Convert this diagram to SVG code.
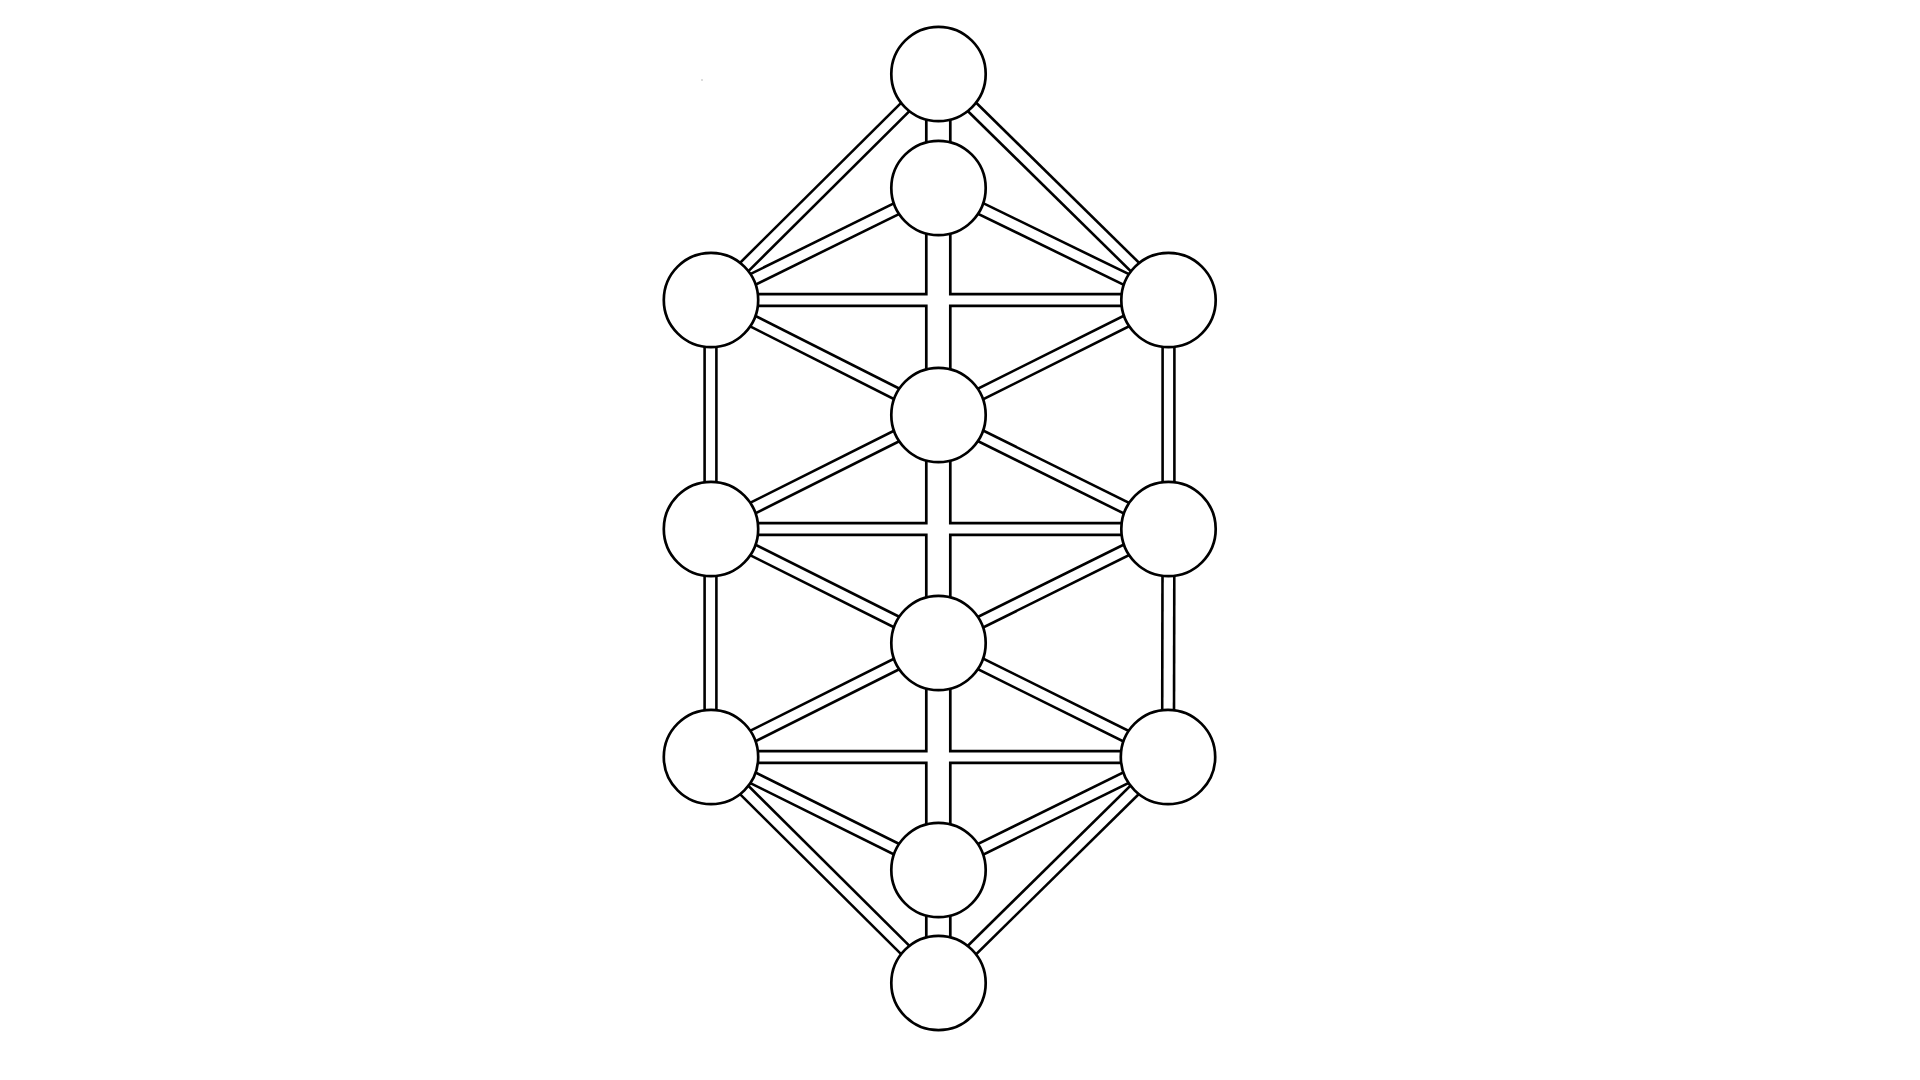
<svg xmlns="http://www.w3.org/2000/svg" xmlns:xlink="http://www.w3.org/1999/xlink" width="1920" height="1080" viewBox="0 0 1920 1080">
<style>
.bg{fill:#fff}
.o{stroke:#000;stroke-width:14.4;fill:none}
.i{stroke:#fff;stroke-width:9.2;fill:none}
.wo{stroke:#000;stroke-width:26.7;fill:none}
.wi{stroke:#fff;stroke-width:21.3;fill:none}
.node circle{fill:#fff;stroke:#000;stroke-width:2.7}
</style>
<defs>
<line id="e-t-lu" x1="938.5" y1="74" x2="711" y2="300"/>
<line id="e-t-ru" x1="938.5" y1="74" x2="1168.5" y2="300"/>
<line id="e-s-lu" x1="938.5" y1="188" x2="711" y2="300"/>
<line id="e-s-ru" x1="938.5" y1="188" x2="1168.5" y2="300"/>
<line id="e-lu-ru" x1="711" y1="300" x2="1168.5" y2="300"/>
<line id="e-lu-cu" x1="711" y1="300" x2="938.5" y2="415"/>
<line id="e-ru-cu" x1="1168.5" y1="300" x2="938.5" y2="415"/>
<line id="e-lu-lm" x1="710.5" y1="300" x2="710.5" y2="529"/>
<line id="e-ru-rm" x1="1168.5" y1="300" x2="1168.5" y2="529"/>
<line id="e-cu-lm" x1="938.5" y1="415" x2="711" y2="529"/>
<line id="e-cu-rm" x1="938.5" y1="415" x2="1168.5" y2="529"/>
<line id="e-lm-rm" x1="711" y1="529" x2="1168.5" y2="529"/>
<line id="e-lm-cl" x1="711" y1="529" x2="938.5" y2="643"/>
<line id="e-rm-cl" x1="1168.5" y1="529" x2="938.5" y2="643"/>
<line id="e-lm-ll" x1="710.5" y1="529" x2="710.5" y2="757"/>
<line id="e-rm-rl" x1="1168.5" y1="529" x2="1168" y2="757"/>
<line id="e-cl-ll" x1="938.5" y1="643" x2="711" y2="757"/>
<line id="e-cl-rl" x1="938.5" y1="643" x2="1168" y2="757"/>
<line id="e-ll-rl" x1="711" y1="757" x2="1168" y2="757"/>
<line id="e-ll-cbu" x1="711" y1="757" x2="938.5" y2="870"/>
<line id="e-rl-cbu" x1="1168" y1="757" x2="938.5" y2="870"/>
<line id="e-ll-b" x1="711" y1="757" x2="938.5" y2="983"/>
<line id="e-rl-b" x1="1168" y1="757" x2="938.5" y2="983"/>
<line id="e-axis" x1="938.3" y1="74" x2="938.3" y2="983"/>
</defs>
<rect class="bg" x="0" y="0" width="1920" height="1080"/>
<rect x="701.5" y="79" width="1" height="2" fill="#bbb"/>
<g id="connectors">
<g id="outlines">
<use xlink:href="#e-t-lu" class="o"/>
<use xlink:href="#e-t-ru" class="o"/>
<use xlink:href="#e-s-lu" class="o"/>
<use xlink:href="#e-s-ru" class="o"/>
<use xlink:href="#e-lu-ru" class="o"/>
<use xlink:href="#e-lu-cu" class="o"/>
<use xlink:href="#e-ru-cu" class="o"/>
<use xlink:href="#e-lu-lm" class="o"/>
<use xlink:href="#e-ru-rm" class="o"/>
<use xlink:href="#e-cu-lm" class="o"/>
<use xlink:href="#e-cu-rm" class="o"/>
<use xlink:href="#e-lm-rm" class="o"/>
<use xlink:href="#e-lm-cl" class="o"/>
<use xlink:href="#e-rm-cl" class="o"/>
<use xlink:href="#e-lm-ll" class="o"/>
<use xlink:href="#e-rm-rl" class="o"/>
<use xlink:href="#e-cl-ll" class="o"/>
<use xlink:href="#e-cl-rl" class="o"/>
<use xlink:href="#e-ll-rl" class="o"/>
<use xlink:href="#e-ll-cbu" class="o"/>
<use xlink:href="#e-rl-cbu" class="o"/>
<use xlink:href="#e-ll-b" class="o"/>
<use xlink:href="#e-rl-b" class="o"/>
<use xlink:href="#e-axis" class="wo"/>
</g>
<g id="channels">
<use xlink:href="#e-t-lu" class="i"/>
<use xlink:href="#e-t-ru" class="i"/>
<use xlink:href="#e-s-lu" class="i"/>
<use xlink:href="#e-s-ru" class="i"/>
<use xlink:href="#e-lu-ru" class="i"/>
<use xlink:href="#e-lu-cu" class="i"/>
<use xlink:href="#e-ru-cu" class="i"/>
<use xlink:href="#e-lu-lm" class="i"/>
<use xlink:href="#e-ru-rm" class="i"/>
<use xlink:href="#e-cu-lm" class="i"/>
<use xlink:href="#e-cu-rm" class="i"/>
<use xlink:href="#e-lm-rm" class="i"/>
<use xlink:href="#e-lm-cl" class="i"/>
<use xlink:href="#e-rm-cl" class="i"/>
<use xlink:href="#e-lm-ll" class="i"/>
<use xlink:href="#e-rm-rl" class="i"/>
<use xlink:href="#e-cl-ll" class="i"/>
<use xlink:href="#e-cl-rl" class="i"/>
<use xlink:href="#e-ll-rl" class="i"/>
<use xlink:href="#e-ll-cbu" class="i"/>
<use xlink:href="#e-rl-cbu" class="i"/>
<use xlink:href="#e-ll-b" class="i"/>
<use xlink:href="#e-rl-b" class="i"/>
<use xlink:href="#e-axis" class="wi"/>
</g>
</g>
<g id="node-top" class="node"><circle cx="938.5" cy="74" r="47.2"/></g>
<g id="node-second" class="node"><circle cx="938.5" cy="188" r="47.2"/></g>
<g id="node-left-upper" class="node"><circle cx="711" cy="300" r="47.2"/></g>
<g id="node-right-upper" class="node"><circle cx="1168.5" cy="300" r="47.2"/></g>
<g id="node-center-upper" class="node"><circle cx="938.5" cy="415" r="47.2"/></g>
<g id="node-left-middle" class="node"><circle cx="711" cy="529" r="47.2"/></g>
<g id="node-right-middle" class="node"><circle cx="1168.5" cy="529" r="47.2"/></g>
<g id="node-center-lower" class="node"><circle cx="938.5" cy="643" r="47.2"/></g>
<g id="node-left-lower" class="node"><circle cx="711" cy="757" r="47.2"/></g>
<g id="node-right-lower" class="node"><circle cx="1168" cy="757" r="47.2"/></g>
<g id="node-center-bottom-upper" class="node"><circle cx="938.5" cy="870" r="47.2"/></g>
<g id="node-bottom" class="node"><circle cx="938.5" cy="983" r="47.2"/></g>
</svg>
